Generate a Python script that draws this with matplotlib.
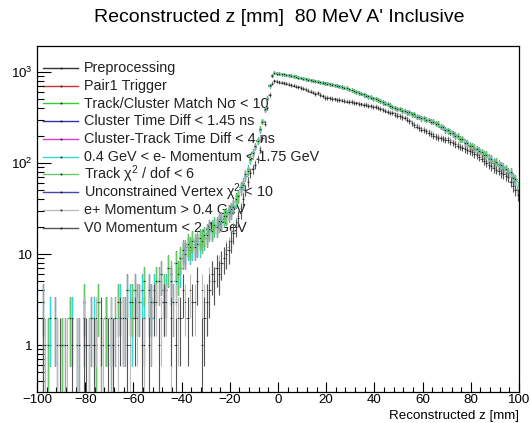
import numpy as np
import matplotlib
matplotlib.use('Agg')
import matplotlib.pyplot as plt
from matplotlib.ticker import LogLocator, MultipleLocator, NullFormatter, FuncFormatter

plt.rcParams['font.family'] = ['Liberation Sans', 'DejaVu Sans']
plt.rcParams['mathtext.fontset'] = 'custom'
plt.rcParams['mathtext.rm'] = 'Liberation Sans'
plt.rcParams['mathtext.it'] = 'Liberation Sans:italic'

# ---------------- data (1 mm bins from -100 to 100) ----------------
bin_edges = np.arange(-100, 101, 1)

counts_upper_a = [
    0, 0, 1, 0, 0, 2, 0, 0, 1, 0,
    0, 1, 0, 0, 2, 0, 0, 1, 0, 2,
    0, 1, 0, 2, 0, 0, 1, 0, 2, 0,
    1, 0, 2, 0, 3, 0, 2, 0, 3, 2,
    0, 3, 0, 4, 2, 0, 3, 2, 4, 0,
    5, 0, 3, 4, 0, 6, 3, 5, 0, 7,
    10, 11, 12, 11, 12, 13, 14, 13, 15, 15,
    17, 18, 19, 20, 21, 22, 24, 25, 27, 28,
    30, 34, 38, 44, 52, 60, 72, 85, 108, 132,
    150, 180, 230, 290, 380, 520, 700, 920, 975, 965,
    958, 944, 951, 925, 930, 902, 905, 880, 876, 858,
    855, 834, 836, 812, 810, 790, 788, 770, 768, 745,
    748, 730, 732, 712, 714, 690, 692, 670, 668, 645,
    638, 612, 612, 588, 584, 560, 556, 534, 530, 508,
    515, 490, 484, 460, 456, 440, 430, 410, 402, 396,
    392, 380, 372, 364, 358, 345, 340, 326, 320, 314,
    310, 300, 296, 286, 282, 275, 268, 255, 246, 236,
    225, 222, 210, 204, 196, 185, 182, 172, 166, 156,
    150, 148, 140, 138, 130, 126, 122, 114, 110, 104,
    100, 98, 92, 90, 84, 80, 77, 70, 64, 54,
]

counts_upper_b = [
    0, 0, 3, 0, 1, 0, 0, 2, 0, 0,
    1, 0, 0, 2, 0, 0, 1, 0, 0, 3,
    0, 0, 2, 0, 1, 3, 0, 0, 2, 0,
    2, 0, 0, 3, 0, 2, 0, 4, 0, 3,
    4, 0, 3, 0, 5, 0, 4, 3, 0, 5,
    0, 6, 4, 0, 7, 5, 0, 8, 6, 9,
    11, 10, 13, 12, 14, 12, 13, 15, 14, 16,
    16, 19, 18, 21, 20, 23, 23, 26, 26, 29,
    31, 33, 40, 43, 54, 58, 75, 82, 112, 128,
    155, 176, 238, 284, 392, 510, 720, 905, 985, 960,
    962, 950, 940, 930, 922, 910, 898, 888, 868, 862,
    848, 840, 826, 818, 802, 796, 780, 774, 758, 752,
    740, 736, 724, 716, 704, 696, 684, 674, 660, 650,
    630, 620, 604, 594, 576, 568, 548, 542, 522, 514,
    505, 494, 478, 466, 450, 444, 424, 414, 398, 390,
    395, 376, 376, 360, 360, 342, 344, 322, 322, 310,
    312, 296, 298, 282, 284, 270, 270, 250, 248, 230,
    228, 216, 212, 200, 198, 182, 184, 168, 168, 152,
    152, 144, 142, 134, 132, 122, 124, 110, 112, 100,
    102, 94, 94, 86, 86, 78, 79, 68, 66, 52,
]

counts_eplus = [
    0, 0, 0, 1, 0, 0, 0, 0, 1, 0,
    0, 0, 1, 0, 0, 0, 1, 0, 0, 2,
    0, 1, 0, 0, 2, 0, 0, 1, 0, 0,
    2, 0, 0, 1, 0, 2, 0, 0, 1, 0,
    0, 2, 0, 0, 1, 0, 2, 0, 0, 3,
    0, 2, 0, 3, 0, 1, 0, 3, 2, 0,
    0, 3, 0, 4, 0, 3, 5, 0, 4, 3,
    3, 5, 6, 5, 7, 7, 8, 9, 11, 12,
    15, 18, 21, 26, 32, 42, 52, 64, 80, 88,
    98, 114, 146, 196, 280, 410, 575, 760, 810, 800,
    790, 778, 770, 758, 746, 735, 722, 708, 696, 684,
    668, 656, 638, 626, 606, 590, 600, 574, 556, 536,
    532, 526, 520, 514, 508, 504, 498, 492, 486, 482,
    480, 472, 464, 458, 452, 448, 442, 436, 430, 424,
    424, 412, 404, 392, 384, 374, 368, 364, 350, 342,
    336, 328, 322, 310, 298, 282, 270, 260, 250, 241,
    238, 230, 222, 214, 208, 200, 197, 193, 190, 186,
    186, 178, 172, 166, 160, 155, 151, 147, 143, 139,
    137, 131, 127, 121, 116, 110, 104, 100, 96, 91,
    87, 85, 81, 78, 75, 72, 64, 58, 52, 47,
]

counts_v0 = [
    0, 0, 1, 0, 0, 0, 0, 0, 0, 1,
    0, 0, 0, 0, 1, 0, 0, 0, 0, 1,
    1, 0, 0, 1, 0, 0, 2, 0, 0, 1,
    0, 1, 0, 0, 2, 0, 0, 1, 0, 0,
    2, 0, 0, 1, 0, 0, 1, 0, 3, 0,
    1, 0, 3, 0, 0, 2, 0, 1, 0, 2,
    4, 0, 2, 0, 3, 0, 5, 0, 1, 2,
    3, 4, 6, 5, 7, 6, 8, 9, 10, 11,
    14, 17, 20, 25, 30, 40, 50, 62, 78, 85,
    95, 110, 140, 190, 270, 400, 560, 740, 790, 780,
    770, 760, 752, 740, 728, 718, 705, 692, 680, 668,
    652, 640, 622, 610, 592, 574, 588, 560, 540, 520,
    518, 512, 506, 500, 494, 490, 486, 480, 474, 470,
    468, 460, 452, 446, 440, 436, 430, 424, 418, 413,
    413, 400, 392, 380, 372, 362, 358, 354, 340, 332,
    326, 318, 312, 300, 288, 272, 260, 250, 240, 232,
    230, 222, 214, 206, 200, 193, 190, 186, 184, 180,
    180, 172, 166, 160, 154, 150, 146, 142, 138, 134,
    132, 126, 122, 116, 112, 106, 100, 96, 92, 88,
    84, 82, 78, 76, 72, 70, 62, 56, 50, 45,
]

series_labels = [
    "Preprocessing",
    "Pair1 Trigger",
    "Track/Cluster Match N\u03c3 < 10",
    "Cluster Time Diff < 1.45 ns",
    "Cluster-Track Time Diff < 4 ns",
    "0.4 GeV < e- Momentum < 1.75 GeV",
    "Track \u03c7$^{2}$ / dof < 6",
    "Unconstrained Vertex \u03c7$^{2}$ < 10",
    "e+ Momentum > 0.4 GeV",
    "V0 Momentum < 2.4 GeV",
]
series_counts = [
    counts_upper_a, counts_upper_a, counts_upper_b, counts_upper_b,
    counts_upper_b, counts_upper_a, counts_upper_b, counts_upper_b,
    counts_eplus, counts_v0,
]
series_colors = [
    "#333333", "#d03030", "#30d030", "#3030b0", "#d040d0",
    "#30d8d8", "#66c866", "#4a44a8", "#bdbdbd", "#555555",
]
# drawing order (so the band tops look like the reference)
draw_order = [0, 1, 3, 4, 7, 2, 5, 6, 8, 9]

# ---------------- figure ----------------
W, H = 531, 423
fig = plt.figure(figsize=(W / 100, H / 100), dpi=100)
L, R, T, B = 37, 519, 46, 392
ax = fig.add_axes([L / W, (H - B) / H, (R - L) / W, (B - T) / H])
ax.set_yscale('log')
ax.set_xlim(-100, 100)
ax.set_ylim(0.305, 1930)

centers = 0.5 * (bin_edges[:-1] + bin_edges[1:])
half = 0.5 * (bin_edges[1:] - bin_edges[:-1])
ymin = 0.305

for n, k in enumerate(draw_order):
    c = np.asarray(series_counts[k], dtype=float)
    m = c > 0
    x = centers[m]
    y = c[m]
    err = np.sqrt(y)
    lo = y - np.maximum(y - err, ymin * 0.5)
    z = 3 + n * 0.1
    ax.errorbar(x, y, yerr=[lo, err], xerr=half[m], fmt='none',
                ecolor=series_colors[k], elinewidth=0.8, capsize=0, zorder=z)
    ax.plot(x, y, 's', color='#222222', ms=0.7, mew=0, zorder=z + 0.05)

# legend drawn under the data (data overlays text as in reference)
def axfrac(px, py):
    return (px - L) / (R - L), (B - py) / (B - T)

for i, (lab, col) in enumerate(zip(series_labels, series_colors)):
    ypx = 68 + 17.75 * i
    x0, y0 = axfrac(43, ypx)
    x1, _ = axfrac(78, ypx)
    xt, _ = axfrac(84, ypx)
    ax.plot([x0, x1], [y0, y0], color=col, lw=1.0, transform=ax.transAxes, zorder=1)
    ax.plot([(x0 + x1) / 2], [y0], 's', color='#111111', ms=1.2, mew=0,
            transform=ax.transAxes, zorder=1)
    ax.text(xt, y0, lab, transform=ax.transAxes, fontsize=10.4, color='#222222',
            ha='left', va='center', zorder=1)

# ticks
ax.xaxis.set_major_locator(MultipleLocator(20))
ax.xaxis.set_minor_locator(MultipleLocator(4))
ax.yaxis.set_major_locator(LogLocator(base=10, numticks=10))
ax.yaxis.set_minor_locator(LogLocator(base=10, subs=np.arange(2, 10), numticks=20))
ax.yaxis.set_minor_formatter(NullFormatter())

def yfmt(v, pos):
    if v <= 0:
        return ''
    e = int(round(np.log10(v)))
    if e == 0:
        return '1'
    if e == 1:
        return '10'
    return '10$^{%d}$' % e

ax.yaxis.set_major_formatter(FuncFormatter(yfmt))
ax.xaxis.set_major_formatter(FuncFormatter(lambda v, p: ('\u2212%d' % -v) if v < 0 else '%d' % v))

ax.tick_params(which='both', direction='in', top=False, right=False,
               labelsize=9.6, width=0.8, colors='black')
ax.tick_params(axis='x', which='major', length=7.2, pad=1.5)
ax.tick_params(axis='x', which='minor', length=3.6)
ax.tick_params(axis='y', which='major', length=10.4, pad=3)
ax.tick_params(axis='y', which='minor', length=5.2)
for s in ax.spines.values():
    s.set_linewidth(0.9)

fig.text(279 / W, 1 - 18 / H, "Reconstructed z [mm]  80 MeV A' Inclusive",
         ha='center', va='center', fontsize=14)
fig.text(R / W, 1 - 416 / H, "Reconstructed z [mm]", ha='right', va='center',
         fontsize=9.6)

fig.savefig('out.png', dpi=100)
